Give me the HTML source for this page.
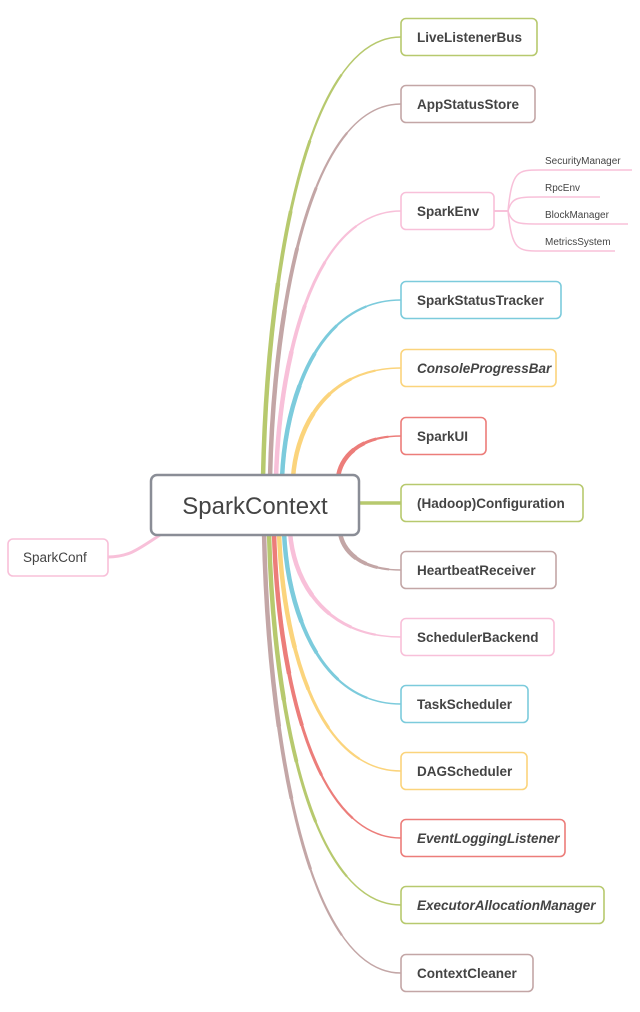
<!DOCTYPE html>
<html><head><meta charset="utf-8"><style>
body{margin:0;background:#fff;width:640px;height:1007px;overflow:hidden;font-family:"Liberation Sans","DejaVu Sans",sans-serif}
svg text{font-family:"Liberation Sans","DejaVu Sans",sans-serif;fill:#444}
</style></head><body>
<svg id="map" width="640" height="1007" viewBox="0 0 640 1007" xmlns="http://www.w3.org/2000/svg"></svg>
<script>
const labels=["LiveListenerBus","AppStatusStore","SparkEnv","SparkStatusTracker","ConsoleProgressBar","SparkUI","(Hadoop)Configuration","HeartbeatReceiver","SchedulerBackend","TaskScheduler","DAGScheduler","EventLoggingListener","ExecutorAllocationManager","ContextCleaner"];
const centersY=[37,104,211,300,368,436,503,570,637,704,771,838,905,973];
const widths=[136,134,93,160,155,85,182,155,153,127,126,164,203,132];
const colors=["#b7c96e","#c3a6a6","#f8c0d9","#7ccbdc","#fbd47c","#ec7d7a","#b7c96e","#c3a6a6","#f8c0d9","#7ccbdc","#fbd47c","#ec7d7a","#b7c96e","#c3a6a6"];
const startX=[263,270,276,282,293,338,359,340,290,284,279,274,269,264];
const italic=[0,0,0,0,1,0,0,0,0,0,0,1,1,0];
const envChildren=["SecurityManager","RpcEnv","BlockManager","MetricsSystem"];
const envChildY=[170,197,224,251];
const envChildLen=[92,60,88,75];

const svg=document.getElementById('map');
const NS='http://www.w3.org/2000/svg';
function mk(t,a){const e=document.createElementNS(NS,t);for(const k in a)e.setAttribute(k,a[k]);return e;}
const NX=401,H=37;
const steps=[[1.5,1],[2.2,0.85],[3,0.7],[3.8,0.55],[4.5,0.4]];
labels.forEach((l,i)=>{
  const cy=centersY[i],sx=startX[i];
  if(i===6){
    const p=mk('path',{d:`M${sx},503 L${NX},503`,fill:'none',stroke:colors[i],'stroke-width':3.5});
    
    
    svg.appendChild(p);return;
  }
  const sy=cy<503?478:532;
  const d=`M${sx},${sy} C${sx+(NX-sx)*0.03},${sy-(sy-cy)*0.45} ${sx+(NX-sx)*0.3},${cy} ${NX},${cy}`;
  steps.forEach(([w,f])=>{
    const p=mk('path',{d:d,fill:'none',stroke:colors[i],'stroke-width':w});
    
    
    svg.appendChild(p);
    if(f<1){const L=p.getTotalLength();p.setAttribute('stroke-dasharray',(L*f)+' '+L);}
  });
});
const pc=mk('path',{d:'M163,533 C140,548 130,557 108,557',fill:'none',stroke:'#f8c0d9','stroke-width':3});


svg.appendChild(pc);
envChildren.forEach((c,i)=>{
  const y=envChildY[i];
  const p=mk('path',{d:`M494,211 L508,211 C512,${y} 518,${y} 540,${y} L${540+envChildLen[i]},${y}`,fill:'none',stroke:'#f8c0d9','stroke-width':1.5});
  
  
  svg.appendChild(p);
  const t=mk('text',{x:545,y:y-6,'font-size':10});
  t.textContent=c;
  
  
  svg.appendChild(t);
});
labels.forEach((l,i)=>{
  const cy=centersY[i];
  const g=mk('g',{});
  
  
  g.appendChild(mk('rect',{x:NX,y:cy-H/2,width:widths[i],height:H,rx:5,fill:'#fff',stroke:colors[i],'stroke-width':1.6}));
  const t=mk('text',{x:NX+16,y:cy+5,'font-size':13.5,'font-weight':'bold','fill':'#555'});
  if(italic[i])t.setAttribute('font-style','italic');
  t.textContent=l;
  g.appendChild(t);
  svg.appendChild(g);
});
const gc=mk('g',{});


gc.appendChild(mk('rect',{x:8,y:539,width:100,height:37,rx:5,fill:'#fff',stroke:'#f8c0d9','stroke-width':1.6}));
const tc=mk('text',{x:23,y:562,'font-size':13.5,fill:'#4a4a4a'});tc.textContent='SparkConf';gc.appendChild(tc);
svg.appendChild(gc);
const gr=mk('g',{});


gr.appendChild(mk('rect',{x:151,y:475,width:208,height:60,rx:6,fill:'#fff',stroke:'#8a8d96','stroke-width':2.5}));
const tr=mk('text',{x:255,y:514,'font-size':24,'text-anchor':'middle',fill:'#4a4a4a'});tr.textContent='SparkContext';gr.appendChild(tr);
svg.appendChild(gr);
</script>
</body></html>
